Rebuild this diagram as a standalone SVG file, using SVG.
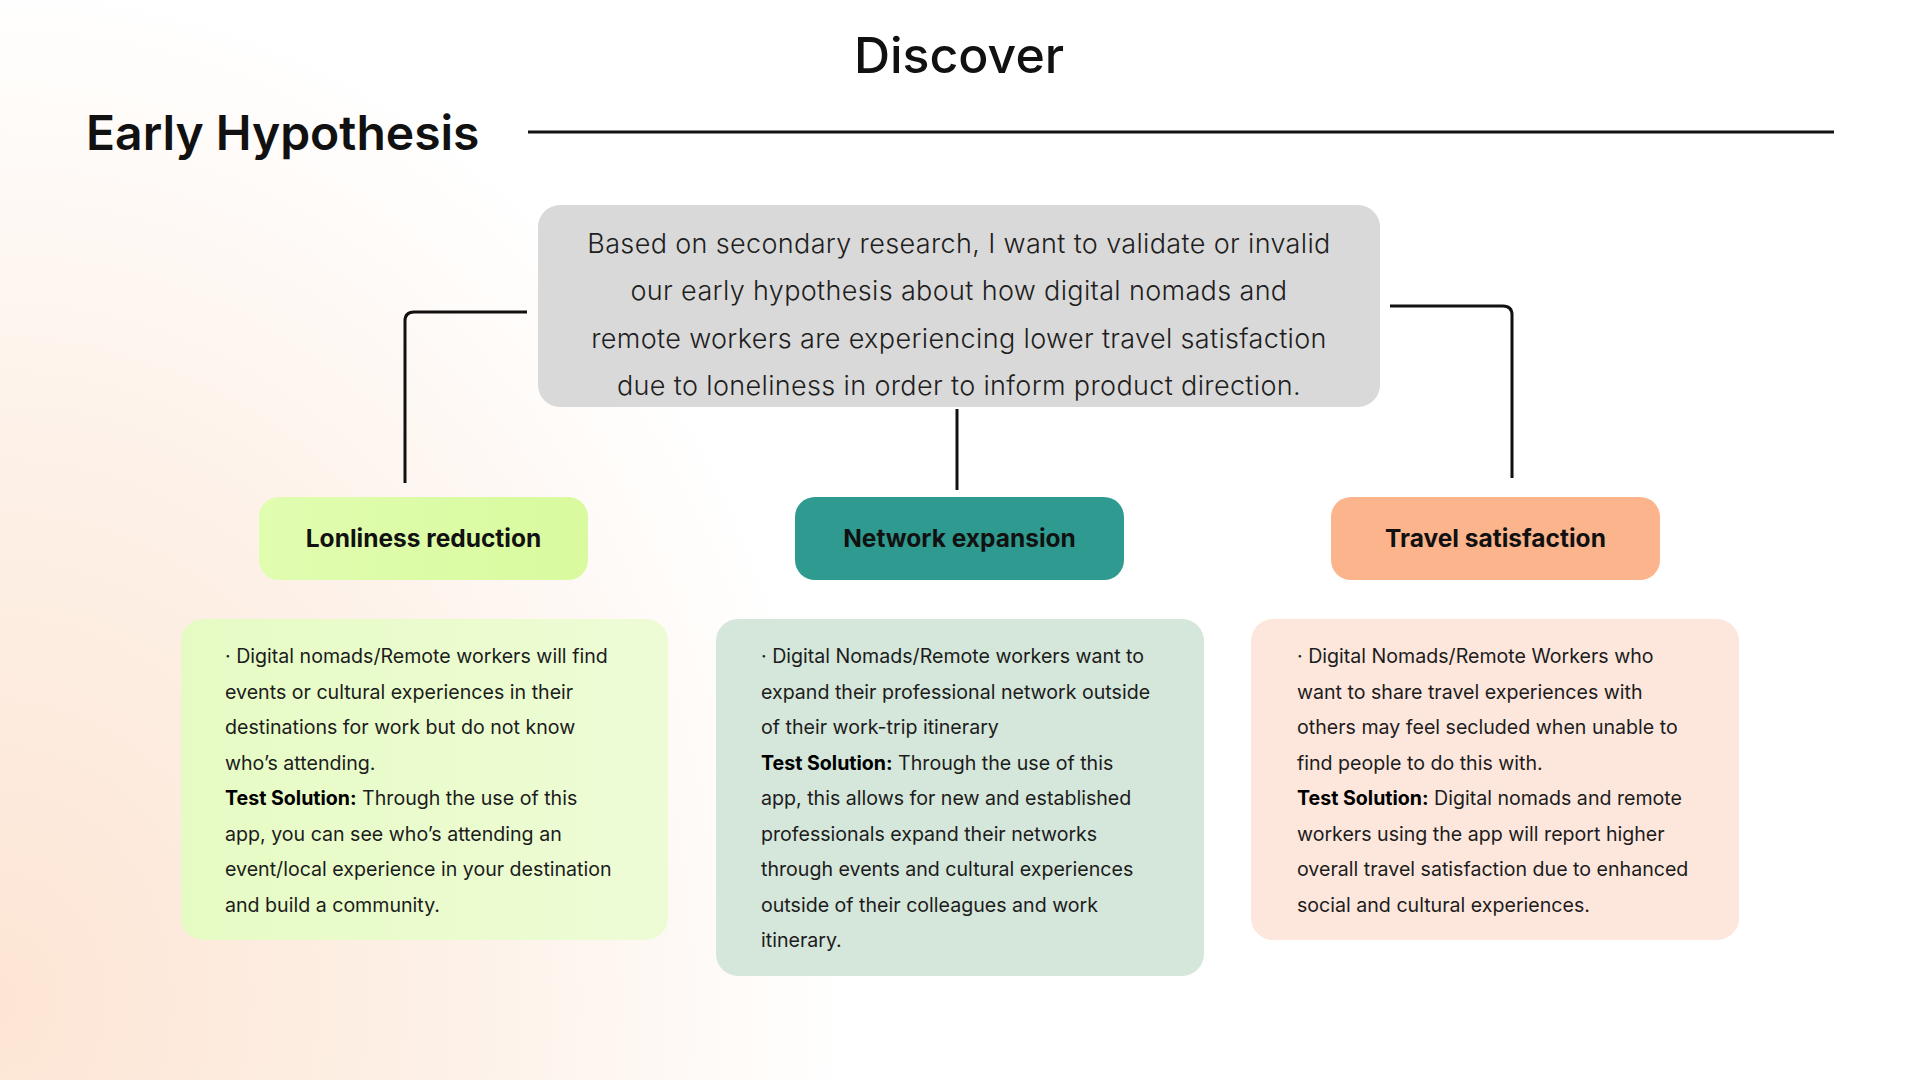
<svg xmlns="http://www.w3.org/2000/svg" width="1920" height="1080" viewBox="0 0 1920 1080">
<defs>
<radialGradient id="bg" cx="0" cy="1000" r="850" gradientUnits="userSpaceOnUse" gradientTransform="translate(0,1000) scale(1,1.2) translate(0,-1000)">
<stop offset="0" stop-color="#fde5d4"/>
<stop offset="0.5" stop-color="#fdf0e6"/>
<stop offset="1" stop-color="#ffffff"/>
</radialGradient>
<linearGradient id="g1" x1="0" y1="0" x2="1" y2="0">
<stop offset="0" stop-color="#e6fbc4"/>
<stop offset="1" stop-color="#eefcd6"/>
</linearGradient>
<linearGradient id="p1" x1="0" y1="0" x2="1" y2="0">
<stop offset="0" stop-color="#e0fdb0"/>
<stop offset="1" stop-color="#d9fa9e"/>
</linearGradient>
<style>
.title{font-family:Inter,"Liberation Sans",sans-serif;fill:#111}
.hyp{font-family:Inter,"Liberation Sans",sans-serif;font-size:27px;font-weight:300;letter-spacing:0.35px;fill:#1e1e1e;text-anchor:middle}
.pill{font-family:Inter,"Liberation Sans",sans-serif;font-size:24.5px;font-weight:700;fill:#111;text-anchor:middle}
.body{font-family:Inter,"Liberation Sans",sans-serif;font-size:19.6px;fill:#1c1c1c}
.b{font-weight:700;fill:#000}
.conn{fill:none;stroke:#111;stroke-width:3}
</style>
</defs>
<rect width="1920" height="1080" fill="url(#bg)"/>
<text class="title" x="959" y="73" font-size="50" font-weight="500" text-anchor="middle">Discover</text>
<text class="title" x="86" y="150" font-size="48" font-weight="600">Early Hypothesis</text>
<line x1="528" y1="132" x2="1834" y2="132" stroke="#111" stroke-width="3"/>
<g id="connectors">
<path class="conn" d="M527,312 H414 Q405,312 405,321 V483"/>
<path class="conn" d="M1390,306 H1503 Q1512,306 1512,315 V478"/>
<path class="conn" d="M957,409 V490"/>
</g>
<g id="hypothesis">
<rect x="538" y="205" width="842" height="202" rx="22" fill="#d9d9d9"/>
<text class="hyp" x="959" y="253">Based on secondary research, I want to validate or invalid</text>
<text class="hyp" x="959" y="300">our early hypothesis about how digital nomads and</text>
<text class="hyp" x="959" y="348">remote workers are experiencing lower travel satisfaction</text>
<text class="hyp" x="959" y="395">due to loneliness in order to inform product direction.</text>
</g>
<g id="pill-loneliness">
<rect x="259" y="497" width="329" height="83" rx="20" fill="url(#p1)"/>
<text class="pill" x="423.5" y="547">Lonliness reduction</text>
</g>
<g id="pill-network">
<rect x="795" y="497" width="329" height="83" rx="20" fill="#2f9a8f"/>
<text class="pill" x="959.5" y="547">Network expansion</text>
</g>
<g id="pill-travel">
<rect x="1331" y="497" width="329" height="83" rx="20" fill="#fbb48c"/>
<text class="pill" x="1495.5" y="547">Travel satisfaction</text>
</g>
<g id="box-loneliness">
<rect x="181" y="619" width="487" height="321" rx="22" fill="url(#g1)"/>
<text class="body" x="225" y="663">· Digital nomads/Remote workers will find</text>
<text class="body" x="225" y="698.5">events or cultural experiences in their</text>
<text class="body" x="225" y="734">destinations for work but do not know</text>
<text class="body" x="225" y="769.5">who’s attending.</text>
<text class="body" x="225" y="805"><tspan class="b">Test Solution:</tspan> Through the use of this</text>
<text class="body" x="225" y="840.5">app, you can see who’s attending an</text>
<text class="body" x="225" y="876">event/local experience in your destination</text>
<text class="body" x="225" y="911.5">and build a community.</text>
</g>
<g id="box-network">
<rect x="716" y="619" width="488" height="357" rx="22" fill="#d5e6da"/>
<text class="body" x="761" y="663">· Digital Nomads/Remote workers want to</text>
<text class="body" x="761" y="698.5">expand their professional network outside</text>
<text class="body" x="761" y="734">of their work-trip itinerary</text>
<text class="body" x="761" y="769.5"><tspan class="b">Test Solution:</tspan> Through the use of this</text>
<text class="body" x="761" y="805">app, this allows for new and established</text>
<text class="body" x="761" y="840.5">professionals expand their networks</text>
<text class="body" x="761" y="876">through events and cultural experiences</text>
<text class="body" x="761" y="911.5">outside of their colleagues and work</text>
<text class="body" x="761" y="947">itinerary.</text>
</g>
<g id="box-travel">
<rect x="1251" y="619" width="488" height="321" rx="22" fill="#fde7dc"/>
<text class="body" x="1297" y="663">· Digital Nomads/Remote Workers who</text>
<text class="body" x="1297" y="698.5">want to share travel experiences with</text>
<text class="body" x="1297" y="734">others may feel secluded when unable to</text>
<text class="body" x="1297" y="769.5">find people to do this with.</text>
<text class="body" x="1297" y="805"><tspan class="b">Test Solution:</tspan> Digital nomads and remote</text>
<text class="body" x="1297" y="840.5">workers using the app will report higher</text>
<text class="body" x="1297" y="876">overall travel satisfaction due to enhanced</text>
<text class="body" x="1297" y="911.5">social and cultural experiences.</text>
</g>
</svg>
